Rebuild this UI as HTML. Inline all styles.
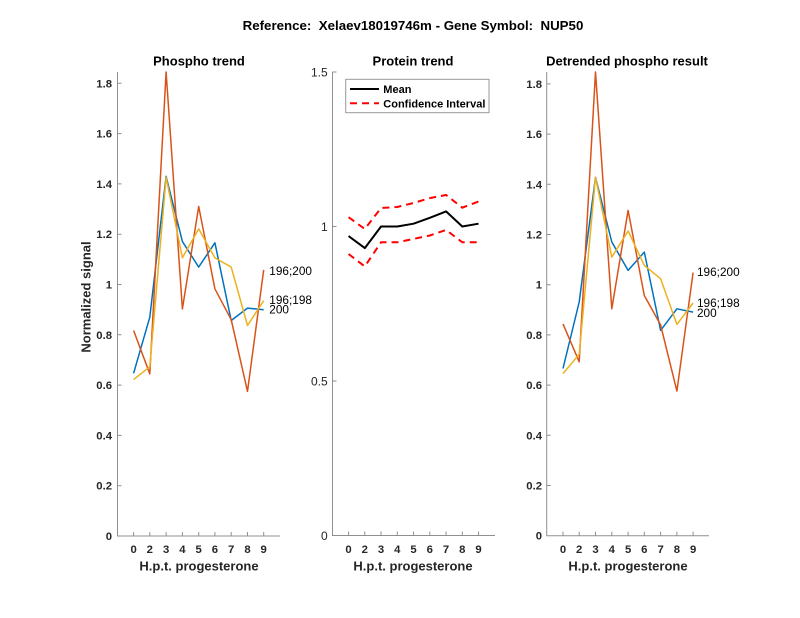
<!DOCTYPE html>
<html>
<head>
<meta charset="utf-8">
<style>
html,body{margin:0;padding:0;background:#fff;}
svg{display:block;}
text{font-family:"Liberation Sans",Arial,sans-serif;}
.t{font-size:11.3px;font-weight:bold;fill:#262626;}
.tm{font-size:12px;font-weight:normal;fill:#262626;}
.lg{font-size:11px;font-weight:bold;fill:#000;}
.ttl{font-size:13px;font-weight:bold;fill:#000;}
.mt{font-size:13.3px;font-weight:bold;fill:#000;}
.lab{font-size:13px;font-weight:bold;fill:#262626;}
.ann{font-size:11.8px;fill:#000;}
.ax{stroke:#8f8f8f;stroke-width:1;fill:none;}
.s{fill:none;stroke-width:1.5;stroke-linejoin:round;}
</style>
</head>
<body>
<svg width="800" height="618" viewBox="0 0 800 618" xmlns="http://www.w3.org/2000/svg">
<rect width="800" height="618" fill="#fff"/>
<text x="413" y="30" text-anchor="middle" class="mt" xml:space="preserve">Reference:  Xelaev18019746m - Gene Symbol:  NUP50</text>

<!-- LEFT PANEL -->
<text x="199" y="65.5" text-anchor="middle" class="ttl">Phospho trend</text>
<path class="ax" d="M117.5,72 V536 H280"/>
<g class="ax">
<path d="M117.5,485.7h4M117.5,435.4h4M117.5,385.1h4M117.5,334.8h4M117.5,284.5h4M117.5,234.2h4M117.5,183.9h4M117.5,133.6h4M117.5,83.3h4"/>
<path d="M133.6,536v-4M149.8,536v-4M166.1,536v-4M182.4,536v-4M198.7,536v-4M214.9,536v-4M231.2,536v-4M247.5,536v-4M263.7,536v-4"/>
</g>
<g class="t" text-anchor="end">
<text x="112" y="540">0</text>
<text x="112" y="489.7">0.2</text>
<text x="112" y="439.4">0.4</text>
<text x="112" y="389.1">0.6</text>
<text x="112" y="338.8">0.8</text>
<text x="112" y="288.5">1</text>
<text x="112" y="238.2">1.2</text>
<text x="112" y="187.9">1.4</text>
<text x="112" y="137.6">1.6</text>
<text x="112" y="87.3">1.8</text>
</g>
<g class="t" text-anchor="middle">
<text x="133.6" y="553">0</text><text x="149.8" y="553">2</text><text x="166.1" y="553">3</text><text x="182.4" y="553">4</text><text x="198.7" y="553">5</text><text x="214.9" y="553">6</text><text x="231.2" y="553">7</text><text x="247.5" y="553">8</text><text x="263.7" y="553">9</text>
</g>
<text x="199" y="570.5" text-anchor="middle" class="lab">H.p.t. progesterone</text>
<text transform="translate(90.5,297) rotate(-90)" text-anchor="middle" class="lab">Normalized signal</text>
<polyline class="s" stroke="#0072BD" points="133.6,373.3 149.8,317.2 166.1,176.4 182.4,241.5 198.7,267.1 214.9,242.8 231.2,320.5 247.5,308.1 263.7,309.7"/>
<polyline class="s" stroke="#D95319" points="133.6,330.5 149.8,373.8 166.1,72 182.4,308.9 198.7,206.5 214.9,288.8 231.2,319.7 247.5,391.4 263.7,269.9"/>
<polyline class="s" stroke="#EDB120" points="133.6,379.6 149.8,366.7 166.1,177.4 182.4,257.8 198.7,228.9 214.9,257.8 231.2,267.1 247.5,325.5 263.7,300.6"/>
<text x="269.3" y="274.8" class="ann">196;200</text>
<text x="269.3" y="304" class="ann">196;198</text>
<text x="269.3" y="313.5" class="ann">200</text>

<!-- MIDDLE PANEL -->
<text x="413" y="65.5" text-anchor="middle" class="ttl">Protein trend</text>
<path class="ax" d="M332.5,72 V535.5 H495"/>
<g class="ax">
<path d="M332.5,381h4M332.5,226.5h4M332.5,72h4"/>
<path d="M348.55,535.5v-4M364.8,535.5v-4M381.05,535.5v-4M397.3,535.5v-4M413.55,535.5v-4M429.8,535.5v-4M446.05,535.5v-4M462.3,535.5v-4M478.55,535.5v-4"/>
</g>
<g class="tm" text-anchor="end">
<text x="327.7" y="540">0</text>
<text x="327.7" y="385.5">0.5</text>
<text x="327.7" y="231">1</text>
<text x="327.7" y="76.5">1.5</text>
</g>
<g class="t" text-anchor="middle">
<text x="348.55" y="553">0</text><text x="364.8" y="553">2</text><text x="381.05" y="553">3</text><text x="397.3" y="553">4</text><text x="413.55" y="553">5</text><text x="429.8" y="553">6</text><text x="446.05" y="553">7</text><text x="462.3" y="553">8</text><text x="478.55" y="553">9</text>
</g>
<text x="413" y="570.5" text-anchor="middle" class="lab">H.p.t. progesterone</text>
<polyline fill="none" stroke="#000" stroke-width="2" stroke-linejoin="round" points="348.55,236.1 364.8,248.1 381.05,226.5 397.3,226.5 413.55,223.7 429.8,217.8 446.05,211.4 462.3,226.5 478.55,223.7"/>
<polyline fill="none" stroke="#FF0000" stroke-width="2" stroke-dasharray="7,5" points="348.55,217.2 364.8,229 381.05,208 397.3,207 413.55,203 429.8,198.1 446.05,195 462.3,207.7 478.55,201.5"/>
<polyline fill="none" stroke="#FF0000" stroke-width="2" stroke-dasharray="7,5" points="348.55,254 364.8,266.4 381.05,242.3 397.3,242.3 413.55,238.9 429.8,235.5 446.05,229.9 462.3,242.3 478.55,242.3"/>
<rect x="345.7" y="79.3" width="143.3" height="33.4" fill="#fff" stroke="#9a9a9a" stroke-width="1"/>
<line x1="350" y1="89" x2="379" y2="89" stroke="#000" stroke-width="2"/>
<line x1="350" y1="103.3" x2="379" y2="103.3" stroke="#FF0000" stroke-width="2" stroke-dasharray="7,5"/>
<text x="383.3" y="93" class="lg">Mean</text>
<text x="383.3" y="107.3" class="lg">Confidence Interval</text>

<!-- RIGHT PANEL -->
<text x="627" y="65.5" text-anchor="middle" class="ttl">Detrended phospho result</text>
<path class="ax" d="M546.7,72 V535.7 H709"/>
<g class="ax">
<path d="M546.7,485.5h4M546.7,435.3h4M546.7,385.1h4M546.7,334.9h4M546.7,284.7h4M546.7,234.5h4M546.7,184.3h4M546.7,134.1h4M546.7,83.9h4"/>
<path d="M563,535.7v-4M579.2,535.7v-4M595.5,535.7v-4M611.8,535.7v-4M628.1,535.7v-4M644.3,535.7v-4M660.6,535.7v-4M676.9,535.7v-4M693.1,535.7v-4"/>
</g>
<g class="t" text-anchor="end">
<text x="542" y="539.7">0</text>
<text x="542" y="489.5">0.2</text>
<text x="542" y="439.3">0.4</text>
<text x="542" y="389.1">0.6</text>
<text x="542" y="338.9">0.8</text>
<text x="542" y="288.7">1</text>
<text x="542" y="238.5">1.2</text>
<text x="542" y="188.3">1.4</text>
<text x="542" y="138.1">1.6</text>
<text x="542" y="87.9">1.8</text>
</g>
<g class="t" text-anchor="middle">
<text x="563" y="553">0</text><text x="579.2" y="553">2</text><text x="595.5" y="553">3</text><text x="611.8" y="553">4</text><text x="628.1" y="553">5</text><text x="644.3" y="553">6</text><text x="660.6" y="553">7</text><text x="676.9" y="553">8</text><text x="693.1" y="553">9</text>
</g>
<text x="628" y="570.5" text-anchor="middle" class="lab">H.p.t. progesterone</text>
<polyline class="s" stroke="#0072BD" points="563,368.5 579.2,302 595.5,177.3 611.8,242 628.1,270.4 644.3,252.1 660.6,330.4 676.9,308.8 693.1,312.1"/>
<polyline class="s" stroke="#D95319" points="563,323.9 579.2,361.8 595.5,72 611.8,308.8 628.1,210.4 644.3,295.5 660.6,324.9 676.9,391.1 693.1,272.6"/>
<polyline class="s" stroke="#EDB120" points="563,373.6 579.2,354.2 595.5,177.3 611.8,257.1 628.1,231 644.3,265.4 660.6,278.7 676.9,324.4 693.1,303"/>
<text x="697" y="276" class="ann">196;200</text>
<text x="697" y="307" class="ann">196;198</text>
<text x="697" y="317" class="ann">200</text>
</svg>
</body>
</html>
